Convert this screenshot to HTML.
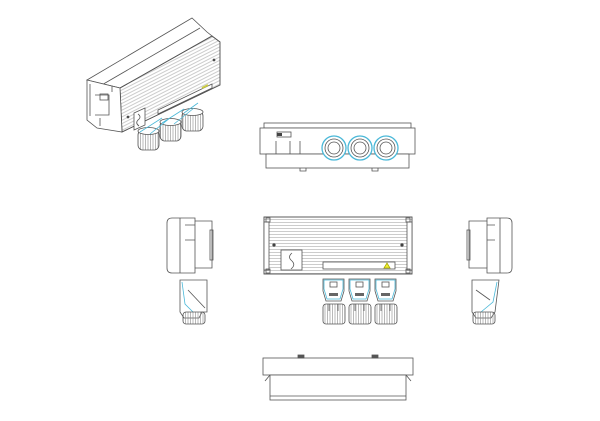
<!DOCTYPE html>
<html><head><meta charset="utf-8"><style>html,body{margin:0;padding:0;background:#fff}svg{display:block}</style></head>
<body>
<svg width="600" height="421" viewBox="0 0 600 421" xmlns="http://www.w3.org/2000/svg" fill="none" stroke="#555" stroke-width="0.8">
<defs>
<pattern id="hl" width="4" height="3" patternUnits="userSpaceOnUse"><line x1="0" y1="0.5" x2="4" y2="0.5" stroke="#aaa" stroke-width="0.6"/></pattern>
<pattern id="dl" width="6" height="3" patternUnits="userSpaceOnUse" patternTransform="rotate(-27)"><line x1="0" y1="0.5" x2="6" y2="0.5" stroke="#aaa" stroke-width="0.6"/></pattern>
<pattern id="vl" width="2.5" height="4" patternUnits="userSpaceOnUse"><line x1="0.5" y1="0" x2="0.5" y2="4" stroke="#888" stroke-width="0.6"/></pattern>
<g id="conn">
<path d="M1 2 h21 v12 l-3 10 h-15 l-3 -10z" fill="#fff"/>
<path d="M2 3 h19 v9 l-3 10 h-13 l-3 -10z" stroke="#4ab8d8"/>
<rect x="8" y="5" width="7" height="5"/>
<rect x="7" y="16" width="9" height="3" fill="#666" stroke="none"/>
<rect x="1" y="27" width="22" height="20" rx="3" fill="url(#vl)"/>
<line x1="7" y1="27" x2="7" y2="34"/><line x1="16" y1="27" x2="16" y2="34"/>
</g>
</defs>

<!-- Isometric -->
<g>
<polygon points="87,80 192,18 207,32 212,36 120,88" fill="#fff"/>
<polygon points="120,88 212,36 220,42 220,85 122,132" fill="url(#dl)"/>
<polygon points="120,88 212,36 220,42 220,85 122,132"/>
<line x1="100" y1="86" x2="200" y2="28"/>
<polygon points="87,80 120,88 122,132 97,128 87,120" fill="#fff"/>
<path d="M90 84 v32 M95 95 h14 v20 h-14 M100 118 v8 M112 92 v-6"/>
<rect x="100" y="94" width="8" height="6"/>
<polygon points="134,113 145,108 145,125 134,130" fill="#fff"/>
<path d="M138 114 q4 3 0 6 q-3 3 1 6"/>
<polygon points="158,110 212,84 212,88 158,114" fill="#fff"/>
<circle cx="128" cy="117" r="1" fill="#333"/><circle cx="214" cy="60" r="1" fill="#333"/>
<line x1="202" y1="88" x2="208" y2="85" stroke="#cc4" stroke-width="2"/>
<g fill="#fff">
<rect x="138" y="130" width="21" height="20" rx="5" fill="url(#vl)"/><ellipse cx="148.5" cy="131" rx="10.5" ry="3.5" fill="#fff"/>
<rect x="160" y="121" width="21" height="20" rx="5" fill="url(#vl)"/><ellipse cx="170.5" cy="122" rx="10.5" ry="3.5" fill="#fff"/>
<rect x="182" y="111" width="21" height="20" rx="5" fill="url(#vl)"/><ellipse cx="192.5" cy="112" rx="10.5" ry="3.5" fill="#fff"/>
</g>
<path d="M140 132 l22 -14 M150 134 l20 -16 M162 123 l22 -14 M174 124 l20 -16 M184 113 l14 -10" stroke="#4ab8d8"/>
</g>

<!-- Top view -->
<g>
<rect x="264" y="123" width="147" height="5" fill="#fff"/>
<rect x="260" y="128" width="155" height="26" fill="#fff"/>
<rect x="266" y="154" width="143" height="14" fill="#fff"/>
<rect x="277" y="132" width="14" height="5"/>
<rect x="277" y="133" width="5" height="3" fill="#444" stroke="none"/>
<path d="M276 141 v13 M290 141 v13 M300 141 v13"/>
<g fill="#fff">
<circle cx="334" cy="148" r="12" stroke="#4ab8d8" stroke-width="1.3"/><circle cx="334" cy="148" r="9"/><circle cx="334" cy="148" r="6"/>
<circle cx="360" cy="148" r="12" stroke="#4ab8d8" stroke-width="1.3"/><circle cx="360" cy="148" r="9"/><circle cx="360" cy="148" r="6"/>
<circle cx="386" cy="148" r="12" stroke="#4ab8d8" stroke-width="1.3"/><circle cx="386" cy="148" r="9"/><circle cx="386" cy="148" r="6"/>
</g>
<path d="M300 168 v3 h6 v-3 M372 168 v3 h6 v-3"/>
</g>

<!-- Front view -->
<g>
<rect x="264" y="217" width="148" height="57" fill="url(#hl)"/>
<rect x="264" y="217" width="148" height="57"/>
<rect x="264" y="222" width="5" height="48" fill="#fff"/>
<rect x="407" y="222" width="5" height="48" fill="#fff"/>
<rect x="266" y="218" width="4" height="4"/><rect x="406" y="218" width="4" height="4"/>
<rect x="266" y="269" width="4" height="4"/><rect x="406" y="269" width="4" height="4"/>
<circle cx="274" cy="245" r="1.3" fill="#333"/><circle cx="402" cy="245" r="1.3" fill="#333"/>
<rect x="281" y="250" width="21" height="20" fill="#fff"/>
<path d="M292 253 q-5 4 0 8 q4 4 -1 8"/>
<rect x="323" y="262" width="72" height="7" fill="#fff"/>
<polygon points="384,268 387,263 390,268" fill="#ee3" stroke="#aa0"/>
<use href="#conn" x="322" y="277"/>
<use href="#conn" x="348" y="277"/>
<use href="#conn" x="374" y="277"/>
</g>

<!-- Left side -->
<g>
<path d="M172 218 h23 v3 h17 v47 h-17 v5 h-23 q-5 0 -5 -5 v-45 q0 -5 5 -5z" fill="#fff"/>
<path d="M180 218 v55 M185 225 h10 v15 h-10 M195 221 v47"/>
<rect x="210" y="230" width="3" height="30"/>
<path d="M180 280 h27 v32 h-5 l-3 6 h-15 l-4 -6 z" fill="#fff"/>
<path d="M182 282 l3 22 l8 8" stroke="#4ab8d8"/>
<line x1="188" y1="290" x2="205" y2="308"/>
<rect x="183" y="312" width="22" height="12" rx="3" fill="url(#vl)"/>
</g>

<!-- Right side -->
<g>
<path d="M507 218 h-20 v3 h-18 v47 h18 v5 h20 q5 0 5 -5 v-45 q0 -5 -5 -5z" fill="#fff"/>
<path d="M500 218 v55 M495 225 h-8 v15 h8 M487 221 v47"/>
<rect x="467" y="230" width="3" height="30"/>
<path d="M472 280 h27 l-4 32 l-4 6 h-15 l-4 -6 z" fill="#fff"/>
<path d="M497 282 l-4 20 l-12 10" stroke="#4ab8d8"/>
<line x1="476" y1="290" x2="490" y2="300"/>
<rect x="473" y="312" width="22" height="12" rx="3" fill="url(#vl)"/>
</g>

<!-- Bottom view -->
<g>
<rect x="263" y="358" width="150" height="17" fill="#fff"/>
<path d="M270 375 l-5 6 M406 375 l5 6"/>
<rect x="270" y="375" width="136" height="25" fill="#fff"/>
<line x1="270" y1="396" x2="406" y2="396"/>
<rect x="298" y="355" width="6" height="3" fill="#555"/>
<rect x="372" y="355" width="6" height="3" fill="#555"/>
</g>
</svg>
</body></html>
